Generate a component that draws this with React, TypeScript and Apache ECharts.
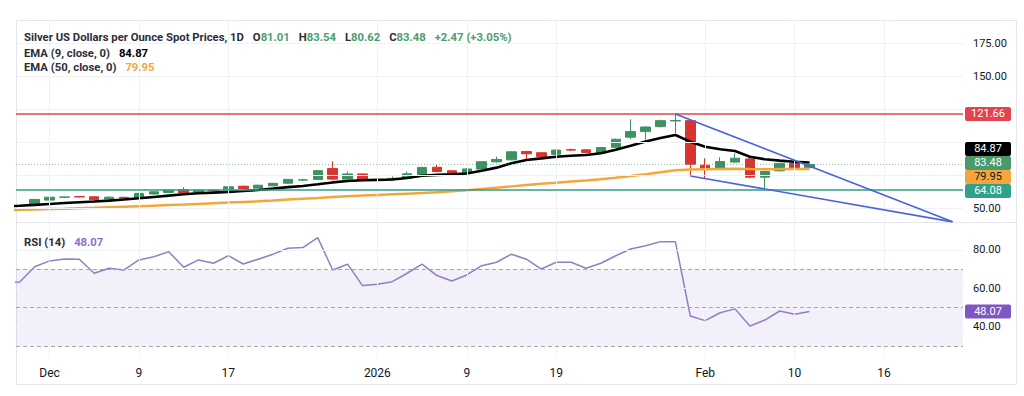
import React, { useEffect, useRef } from 'react';
import * as echarts from 'echarts';

// ---- x axis (bar index: 0 = Dec 1, 2025; trading days only) ----
const xTickIndex = [0, 6, 12, 22, 28, 34, 44, 50, 56];
const xTickLabels = ['Dec', '9', '17', '2026', '9', '19', 'Feb', '10', '16'];
const X_MIN = -2.25;
const X_MAX = 61.3;

// ---- candles (first candle = index -1, Nov 28) ----
const candleStart = -1;
const opens = [53.6, 56.4, 58.5, 59.1, 58.9, 57.2, 58.5, 58.0, 61.0, 62.2, 64.4, 62.4, 64.0, 64.2, 66.9, 65.5, 67.2, 69.2, 71.6, 72.1, 80.3, 72.3, 76.2, 71.6, 72.4, 73.0, 75.8, 81.3, 78.6, 76.7, 79.9, 85.4, 86.9, 93.2, 92.3, 91.1, 94.6, 94.5, 92.0, 96.4, 104.1, 108.3, 112.1, 116.4, 116.6, 82.8, 80.0, 85.2, 87.6, 73.8, 78.6, 84.3, 81.01];
const highs = [57.2, 59.0, 59.1, 59.5, 59.2, 59.2, 59.0, 61.9, 63.1, 64.4, 66.2, 64.4, 64.6, 66.9, 67.4, 68.1, 69.5, 72.4, 72.6, 79.2, 85.8, 78.0, 76.6, 71.8, 74.3, 78.0, 81.6, 83.0, 79.1, 80.6, 86.0, 89.3, 93.6, 93.8, 92.8, 94.8, 95.4, 95.0, 96.6, 103.0, 117.6, 112.4, 117.3, 121.66, 117.5, 88.1, 88.9, 91.9, 88.6, 78.6, 84.6, 85.2, 83.54];
const lows = [53.3, 56.0, 57.9, 58.4, 56.3, 56.9, 57.5, 57.8, 60.6, 61.8, 61.4, 62.0, 62.9, 63.8, 64.9, 65.2, 66.9, 68.8, 70.9, 71.7, 71.5, 72.0, 70.6, 71.4, 71.5, 72.6, 75.5, 77.6, 75.4, 76.2, 79.5, 84.8, 86.5, 86.4, 87.6, 90.6, 93.6, 91.8, 91.6, 96.0, 102.6, 102.2, 111.4, 107.1, 74.7, 73.1, 79.5, 84.8, 72.9, 64.5, 78.1, 80.3, 80.62];
const closes = [56.9, 58.6, 58.8, 58.8, 56.7, 58.6, 57.9, 61.5, 62.7, 64.0, 61.8, 63.9, 63.6, 66.5, 65.2, 67.7, 69.1, 72.1, 71.8, 78.7, 72.3, 76.2, 71.3, 71.7, 72.9, 76.3, 81.2, 78.1, 76.7, 80.0, 85.5, 87.2, 93.0, 91.5, 89.4, 94.3, 94.3, 92.4, 96.2, 102.5, 108.3, 111.8, 116.6, 116.7, 83.6, 79.9, 85.6, 88.1, 73.8, 78.0, 84.2, 81.01, 83.48];

// ---- indicators (first value = index -3) ----
const lineStart = -3;
const ema9 = [51.6, 52.1, 52.8, 53.5, 54.2, 54.8, 55.3, 56.0, 56.8, 57.8, 58.8, 59.8, 60.8, 61.6, 62.1, 62.6, 63.3, 64.1, 65.1, 66.2, 67.1, 68.4, 69.8, 70.9, 71.4, 71.7, 72.0, 73.2, 74.8, 75.5, 75.9, 76.6, 78.6, 81.0, 84.3, 86.8, 88.0, 89.2, 90.0, 90.6, 91.9, 94.6, 97.6, 100.8, 103.5, 105.7, 100.7, 96.9, 94.9, 93.6, 89.3, 87.3, 86.3, 85.5, 84.87];
const ema50 = [48.7, 49.0, 49.3, 49.6, 49.9, 50.3, 50.6, 51.0, 51.4, 51.8, 52.2, 52.6, 53.0, 53.5, 54.0, 54.5, 55.0, 55.5, 56.1, 56.8, 57.4, 58.0, 58.7, 59.3, 59.8, 60.3, 60.8, 61.3, 61.8, 62.4, 63.1, 63.8, 64.8, 65.8, 66.8, 67.8, 68.7, 69.6, 70.5, 71.3, 72.2, 73.3, 74.6, 76.0, 77.5, 79.0, 79.6, 79.8, 80.0, 80.2, 79.9, 79.8, 79.9, 79.9, 79.95];
const rsi = [63.0, 63.4, 71.3, 74.3, 75.3, 75.2, 67.9, 70.5, 69.6, 74.8, 76.5, 79.1, 71.0, 74.8, 73.1, 77.0, 72.7, 75.2, 77.8, 80.9, 81.2, 86.4, 69.6, 72.6, 61.5, 62.2, 63.5, 67.9, 72.6, 66.7, 63.9, 67.0, 71.8, 73.6, 77.8, 75.2, 70.1, 73.6, 73.6, 70.5, 73.1, 77.0, 80.5, 82.2, 84.3, 84.3, 45.7, 43.3, 47.4, 49.4, 40.5, 43.6, 48.3, 46.6, 48.07];

// ---- levels & drawings ----
const resistance = 121.66;
const support = 64.08;
const wedgeUpper = [[42, 121.66], [60.6, 39.9]];
const wedgeLower = [[43, 74.7], [60.6, 39.9]];

// ---- axes ----
const priceMin = 39.8;
const priceMax = 192.9;
const priceTicks = [50, 150, 175];
const priceGrid = [50, 75, 100, 125, 150, 175];
const rsiMin = 23.9;
const rsiMax = 94.5;
const rsiTicks = [40, 60, 80];
const rsiGrid = [40, 60, 80];
const rsiLevels = [70, 50, 30];

const FONT = 'Roboto, "Noto Sans", sans-serif';
const GREEN = '#3f9062';
const RED = '#d9342f';
const ORANGE = '#f3a63b';
const TEAL = '#2f9e8a';
const REDLINE = '#e0444f';
const BLUE = '#4a63d9';
const PURPLE = '#7e57c2';
const TEXT = '#131722';
const GRIDC = '#f0f1f3';

export default function App() {
  const ref = useRef<HTMLDivElement>(null);
  useEffect(() => {
    const el = ref.current!;
    const chart = echarts.init(el, null, { renderer: 'svg' });

    const candles = opens.map((o, i) => [candleStart + i, o, closes[i], lows[i], highs[i]]);
    const toLine = (arr: number[]) => arr.map((v, i) => [lineStart + i, v]);
    const last = (a: number[]) => a[a.length - 1];
    const lastClose = last(closes);
    const prevClose = closes[closes.length - 2];
    const chg = lastClose - prevClose;
    const pct = (chg / prevClose) * 100;
    const sign = chg >= 0 ? '+' : '';

    const fs = 11.3;
    const legendRich = {
      t: { color: '#2a2e39', fontSize: fs, fontFamily: FONT, lineHeight: 14 },
      g: { color: '#4c9c6e', fontSize: fs, fontFamily: FONT, lineHeight: 14 },
      k: { color: '#000', fontSize: fs, fontFamily: FONT, lineHeight: 14 },
      o: { color: ORANGE, fontSize: fs, fontFamily: FONT, lineHeight: 14 },
      p: { color: '#8a6fcc', fontSize: fs, fontFamily: FONT, lineHeight: 14 },
    };

    const option: any = {
      animation: false,
      backgroundColor: '#ffffff',
      textStyle: { fontFamily: FONT },
      title: [
        {
          left: 24, top: 28,
          text: `{t|Silver US Dollars per Ounce Spot Prices, 1D}  {t|O}{g|${last(opens).toFixed(2)}}  {t|H}{g|${last(highs).toFixed(2)}}  {t|L}{g|${last(lows).toFixed(2)}}  {t|C}{g|${lastClose.toFixed(2)}}  {g|${sign}${chg.toFixed(2)} (${sign}${pct.toFixed(2)}%)}`,
          textStyle: { rich: legendRich },
          padding: 0,
        },
        {
          left: 24, top: 44,
          text: `{t|EMA (9, close, 0)}  {k|${last(ema9).toFixed(2)}}`,
          textStyle: { rich: legendRich },
          padding: 0,
        },
        {
          left: 24, top: 58,
          text: `{t|EMA (50, close, 0)}  {o|${last(ema50).toFixed(2)}}`,
          textStyle: { rich: legendRich },
          padding: 0,
        },
        {
          left: 24, top: 233,
          text: `{t|RSI (14)}  {p|${last(rsi).toFixed(2)}}`,
          textStyle: { rich: legendRich },
          padding: 0,
        },
      ],
      grid: [
        { left: 16, top: 20, width: 947, height: 202 },
        { left: 16, top: 222, width: 947, height: 136 },
      ],
      xAxis: [
        {
          type: 'value', gridIndex: 0, min: X_MIN, max: X_MAX,
          axisLine: { show: false }, axisTick: { show: false }, axisLabel: { show: false }, splitLine: { show: false },
        },
        {
          type: 'value', gridIndex: 1, min: X_MIN, max: X_MAX,
          axisLine: { show: false }, axisTick: { show: false }, splitLine: { show: false },
          axisLabel: {
            customValues: xTickIndex,
            formatter: (v: number) => {
              const k = xTickIndex.indexOf(Math.round(v));
              return k >= 0 ? xTickLabels[k] : '';
            },
            color: TEXT, fontSize: 12, fontFamily: FONT, margin: 9,
          },
        },
      ],
      yAxis: [
        {
          type: 'value', gridIndex: 0, position: 'right', min: priceMin, max: priceMax,
          axisLine: { show: false }, axisTick: { show: false }, splitLine: { show: false },
          axisLabel: { customValues: priceTicks, formatter: (v: number) => v.toFixed(2), color: TEXT, fontSize: 11, fontFamily: FONT, margin: 10 },
        },
        {
          type: 'value', gridIndex: 1, position: 'right', min: rsiMin, max: rsiMax,
          axisLine: { show: false }, axisTick: { show: false }, splitLine: { show: false },
          axisLabel: { customValues: rsiTicks, formatter: (v: number) => v.toFixed(2), color: TEXT, fontSize: 11, fontFamily: FONT, margin: 10 },
        },
      ],
      series: [
        {
          name: 'priceGrid', type: 'line', xAxisIndex: 0, yAxisIndex: 0, data: [], z: 0, silent: true,
          markLine: {
            silent: true, symbol: ['none', 'none'], label: { show: false },
            lineStyle: { color: GRIDC, width: 1, type: 'solid' },
            data: [...priceGrid.map((v) => ({ yAxis: v })), ...xTickIndex.map((i) => ({ xAxis: i }))],
          },
        },
        {
          name: 'rsiGrid', type: 'line', xAxisIndex: 1, yAxisIndex: 1, data: [], z: 0, silent: true,
          markArea: {
            silent: true,
            itemStyle: { color: 'rgba(126,87,194,0.09)' },
            data: [[{ yAxis: rsiLevels[2] }, { yAxis: rsiLevels[0] }]],
          },
          markLine: {
            silent: true, symbol: ['none', 'none'], label: { show: false },
            lineStyle: { color: GRIDC, width: 1, type: 'solid' },
            data: [
              ...rsiGrid.map((v) => ({ yAxis: v })),
              ...xTickIndex.map((i) => ({ xAxis: i })),
              ...rsiLevels.map((v) => ({ yAxis: v, lineStyle: { color: '#a3a6ae', width: 1, type: [4, 3] } })),
            ],
          },
        },
        {
          name: 'levels', type: 'line', xAxisIndex: 0, yAxisIndex: 0, data: [], z: 2, silent: true,
          markLine: {
            silent: true, symbol: ['none', 'none'], label: { show: false },
            data: [
              { yAxis: resistance, lineStyle: { color: REDLINE, width: 1.5, type: 'solid' } },
              { yAxis: support, lineStyle: { color: TEAL, width: 1.5, type: 'solid' } },
              { yAxis: lastClose, lineStyle: { color: 'rgba(63,144,98,0.55)', width: 1, type: [1, 2] } },
            ],
          },
        },
        {
          name: 'Silver', type: 'candlestick', xAxisIndex: 0, yAxisIndex: 0, z: 3,
          data: candles, encode: { x: 0, y: [1, 2, 3, 4] }, barWidth: 10,
          itemStyle: { color: GREEN, color0: RED, borderColor: GREEN, borderColor0: RED, borderWidth: 1 },
        },
        {
          name: 'EMA50', type: 'line', xAxisIndex: 0, yAxisIndex: 0, z: 4, data: toLine(ema50),
          showSymbol: false, symbol: 'none', lineStyle: { color: ORANGE, width: 2.5 },
        },
        {
          name: 'EMA9', type: 'line', xAxisIndex: 0, yAxisIndex: 0, z: 4, data: toLine(ema9),
          showSymbol: false, symbol: 'none', lineStyle: { color: '#000000', width: 2.6 },
        },
        {
          name: 'wedgeUpper', type: 'line', xAxisIndex: 0, yAxisIndex: 0, z: 5, data: wedgeUpper,
          showSymbol: false, symbol: 'none', lineStyle: { color: BLUE, width: 1.6 },
        },
        {
          name: 'wedgeLower', type: 'line', xAxisIndex: 0, yAxisIndex: 0, z: 5, data: wedgeLower,
          showSymbol: false, symbol: 'none', lineStyle: { color: BLUE, width: 1.6 },
        },
        {
          name: 'RSI', type: 'line', xAxisIndex: 1, yAxisIndex: 1, z: 4, data: toLine(rsi),
          showSymbol: false, symbol: 'none', lineStyle: { color: '#8f80c4', width: 1.5 },
        },
      ],
    };
    chart.setOption(option);

    // price-scale tags, positioned from the axes
    const py = (v: number) => chart.convertToPixel({ yAxisIndex: 0 }, v) as number;
    const ry = (v: number) => chart.convertToPixel({ yAxisIndex: 1 }, v) as number;
    type Tag = { value: number; bg: string; fg: string; y: number; pos: number };
    const H = 14;
    const priceTags: Tag[] = [
      { value: resistance, bg: '#e2434e', fg: '#ffffff' },
      { value: last(ema9), bg: '#000000', fg: '#ffffff' },
      { value: lastClose, bg: '#4b9a69', fg: '#ffffff' },
      { value: last(ema50), bg: ORANGE, fg: '#131722' },
      { value: support, bg: '#33a08c', fg: '#ffffff' },
    ].map((t) => ({ ...t, y: py(t.value), pos: py(t.value) }));
    const sorted = [...priceTags].sort((a, b) => a.y - b.y);
    let clusters = sorted.map((m) => ({ members: [m], center: m.y }));
    let changed = true;
    while (changed) {
      changed = false;
      for (let i = 0; i < clusters.length - 1; i++) {
        const a = clusters[i];
        const b = clusters[i + 1];
        const aBottom = a.center + ((a.members.length - 1) * H) / 2;
        const bTop = b.center - ((b.members.length - 1) * H) / 2;
        if (bTop - aBottom < H) {
          const members = [...a.members, ...b.members];
          const center = members.reduce((s, m) => s + m.y, 0) / members.length;
          clusters.splice(i, 2, { members, center });
          changed = true;
          break;
        }
      }
    }
    clusters.forEach((c) => c.members.forEach((m, k) => { m.pos = c.center + (k - (c.members.length - 1) / 2) * H - 1.5 * (c.members.length > 1 ? 1 : 0); }));
    const rsiTag: Tag = { value: last(rsi), bg: PURPLE, fg: '#ffffff', y: ry(last(rsi)), pos: ry(last(rsi)) };

    const tagEl = (t: Tag) => ({
      type: 'group',
      children: [
        { type: 'rect', shape: { x: 965, y: t.pos - H / 2, width: 46, height: H, r: 2 }, style: { fill: t.bg } },
        {
          type: 'text', x: 988, y: t.pos,
          style: { text: t.value.toFixed(2), fill: t.fg, font: `11px ${FONT}`, align: 'center', verticalAlign: 'middle', textAlign: 'center', textVerticalAlign: 'middle' },
        },
      ],
    });

    chart.setOption({
      graphic: [
        { type: 'rect', shape: { x: 16.5, y: 20.5, width: 1000, height: 364 }, style: { fill: 'none', stroke: '#e4e5e8', lineWidth: 1 }, silent: true },
        { type: 'line', shape: { x1: 16, y1: 222.5, x2: 1017, y2: 222.5 }, style: { stroke: '#e4e5e8', lineWidth: 1 }, silent: true },
        ...priceTags.map(tagEl),
        tagEl(rsiTag),
      ],
    });

    return () => chart.dispose();
  }, []);

  return <div ref={ref} style={{ position: 'fixed', left: 0, top: 0, width: 1024, height: 396, background: '#fff' }} />;
}
